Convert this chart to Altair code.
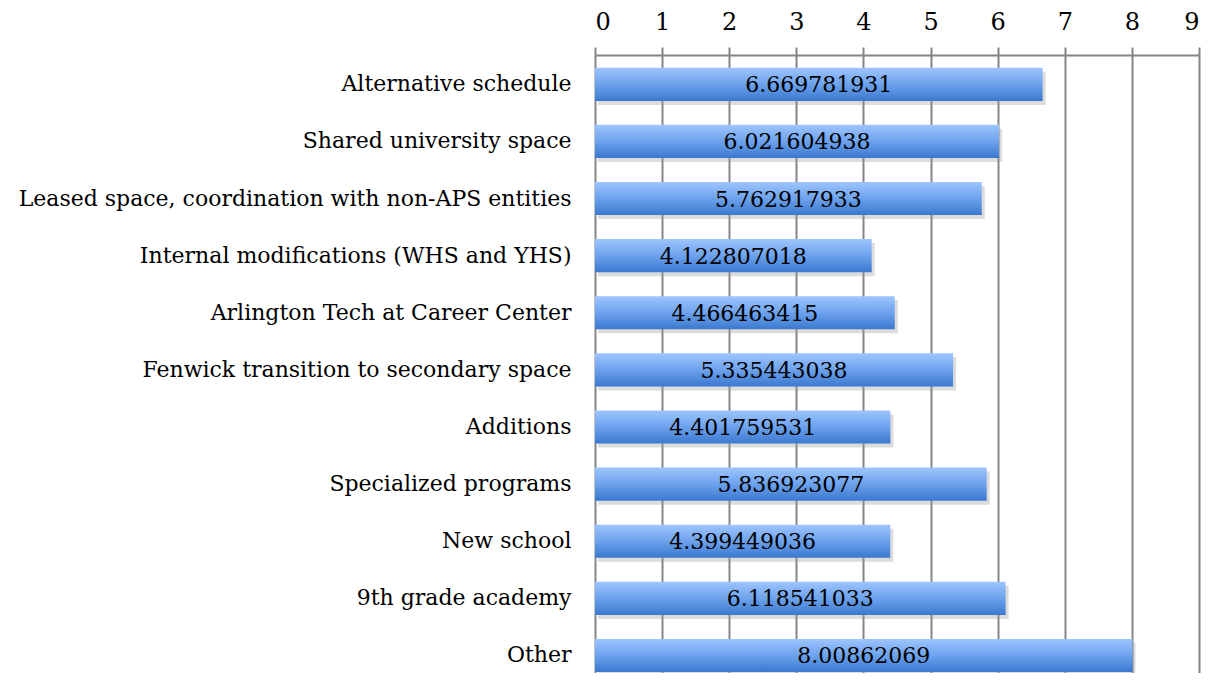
import altair as alt
import pandas as pd

categories = [
    "Alternative schedule",
    "Shared university space",
    "Leased space, coordination with non-APS entities",
    "Internal modifications (WHS and YHS)",
    "Arlington Tech at Career Center",
    "Fenwick transition to secondary space",
    "Additions",
    "Specialized programs",
    "New school",
    "9th grade academy",
    "Other",
]
values = [
    6.669781931,
    6.021604938,
    5.762917933,
    4.122807018,
    4.466463415,
    5.335443038,
    4.401759531,
    5.836923077,
    4.399449036,
    6.118541033,
    8.00862069,
]
labels = [
    "6.669781931",
    "6.021604938",
    "5.762917933",
    "4.122807018",
    "4.466463415",
    "5.335443038",
    "4.401759531",
    "5.836923077",
    "4.399449036",
    "6.118541033",
    "8.00862069",
]

df = pd.DataFrame({"cat": categories, "val": values, "lab": labels})
df["mid"] = df["val"] / 2

FONT = "DejaVu Serif"
FS = 22

yscale = alt.Scale(paddingInner=0.42, paddingOuter=0.12, align=0.93)
xscale = alt.Scale(domain=[0, 9], nice=False)

y_enc = alt.Y(
    "cat:N",
    sort=None,
    scale=yscale,
    axis=alt.Axis(
        title=None,
        domain=False,
        ticks=False,
        labelPadding=24,
        labelFont=FONT,
        labelFontSize=FS,
        labelColor="#000000",
        labelLimit=700,
        grid=False,
    ),
)

x_enc = alt.X(
    "val:Q",
    scale=xscale,
    axis=alt.Axis(
        orient="top",
        title=None,
        values=list(range(10)),
        format="d",
        domainColor="#858585",
        domainWidth=2,
        tickColor="#858585",
        tickWidth=2,
        tickSize=8,
        labelPadding=13,
        labelFont=FONT,
        labelFontSize=24,
        labelColor="#000000",
        grid=True,
        gridColor="#858585",
        gridWidth=2,
    ),
)

shadow = alt.Chart(df).mark_bar(
    color="#9a9a9a", opacity=0.35, xOffset=3, yOffset=4
).encode(x=x_enc, y=y_enc)

gradient = alt.Gradient(
    gradient="linear",
    stops=[
        alt.GradientStop(color="#9ec5ff", offset=0),
        alt.GradientStop(color="#6da2ec", offset=0.5),
        alt.GradientStop(color="#3a78cf", offset=1),
    ],
    x1=0, x2=0, y1=0, y2=1,
)

bars = alt.Chart(df).mark_bar(color=gradient).encode(x=x_enc, y=y_enc)

text = alt.Chart(df).mark_text(
    font=FONT, fontSize=FS, color="#000000", align="center", baseline="middle", dy=1
).encode(
    x=alt.X("mid:Q", scale=xscale),
    y=alt.Y("cat:N", sort=None, scale=yscale),
    text="lab:N",
)

chart = (
    alt.layer(shadow, bars, text)
    .properties(
        width=604,
        height=618,
        autosize=alt.AutoSizeParams(type="none"),
        padding={"left": 587, "top": 47, "right": 8, "bottom": 0},
    )
    .configure_view(stroke=None)
    .configure(background="white")
)

chart.save("out.html", embed_options={"renderer": "svg", "actions": False})
